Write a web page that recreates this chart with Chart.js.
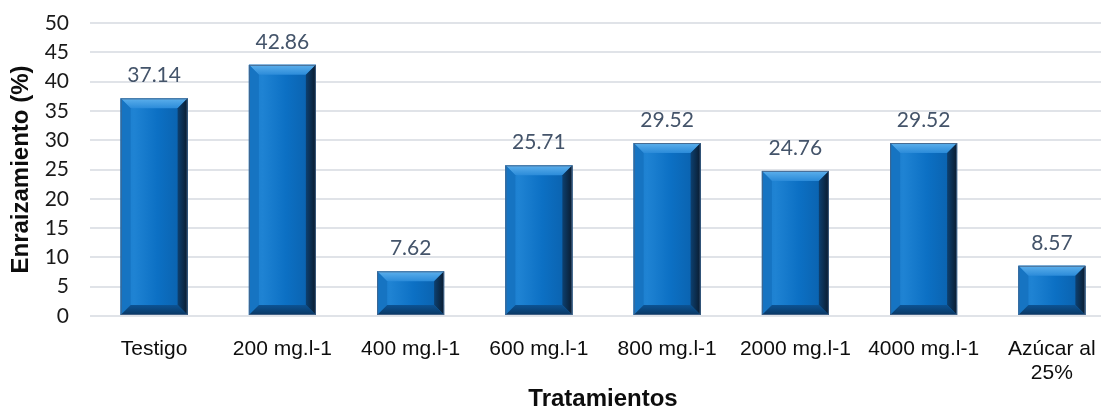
<!DOCTYPE html>
<html>
<head>
<meta charset="utf-8">
<script src="https://cdn.jsdelivr.net/npm/chart.js@4"></script>
<style>
html, body { margin: 0; padding: 0; background: #fff; overflow: hidden; }
#wrap { width: 1116px; height: 410px; }
</style>
</head>
<body>
<div id="wrap"><canvas id="rootChart" width="1116" height="410"></canvas></div>
<script>
const categories = ['Testigo', '200 mg.l-1', '400 mg.l-1', '600 mg.l-1', '800 mg.l-1', '2000 mg.l-1', '4000 mg.l-1', ['Azúcar al', '25%']];
const rooting = [37.14, 42.86, 7.62, 25.71, 29.52, 24.76, 29.52, 8.57];
const yMin = 0, yMax = 50, yStep = 5;

// draws the bevelled look of the bars plus the value labels
const bevelBars = {
    id: 'bevelBars',
    afterDatasetsDraw(chart) {
        const ctx = chart.ctx;
        const meta = chart.getDatasetMeta(0);
        ctx.save();
        meta.data.forEach((bar, i) => {
            const l = bar.x - bar.width / 2, r = bar.x + bar.width / 2;
            const t = bar.y, b = bar.base;
            const s = Math.min(10, (b - t) / 2);

            let g = ctx.createLinearGradient(l, 0, r, 0);
            g.addColorStop(0, '#1a7ccc');
            g.addColorStop(0.2, '#1f83d3');
            g.addColorStop(0.55, '#0c70c4');
            g.addColorStop(1, '#0a5ea8');
            ctx.fillStyle = g;
            ctx.fillRect(l, t, r - l, b - t);

            // top
            g = ctx.createLinearGradient(0, t, 0, t + s);
            g.addColorStop(0, '#5db0ec');
            g.addColorStop(1, '#2b8bd9');
            ctx.fillStyle = g;
            ctx.beginPath();
            ctx.moveTo(l, t); ctx.lineTo(r, t); ctx.lineTo(r - s, t + s); ctx.lineTo(l + s, t + s);
            ctx.closePath(); ctx.fill();

            // left
            ctx.fillStyle = '#1674c2';
            ctx.beginPath();
            ctx.moveTo(l, t); ctx.lineTo(l + s, t + s); ctx.lineTo(l + s, b - s); ctx.lineTo(l, b);
            ctx.closePath(); ctx.fill();

            // right
            g = ctx.createLinearGradient(r - s, 0, r, 0);
            g.addColorStop(0, '#0d4070');
            g.addColorStop(1, '#0a1b2e');
            ctx.fillStyle = g;
            ctx.beginPath();
            ctx.moveTo(r, t); ctx.lineTo(r, b); ctx.lineTo(r - s, b - s); ctx.lineTo(r - s, t + s);
            ctx.closePath(); ctx.fill();

            // bottom
            g = ctx.createLinearGradient(0, b - s, 0, b);
            g.addColorStop(0, '#0c5394');
            g.addColorStop(1, '#0a3762');
            ctx.fillStyle = g;
            ctx.beginPath();
            ctx.moveTo(l, b); ctx.lineTo(r, b); ctx.lineTo(r - s, b - s); ctx.lineTo(l + s, b - s);
            ctx.closePath(); ctx.fill();

            ctx.strokeStyle = 'rgba(70,100,135,0.9)';
            ctx.lineWidth = 1;
            ctx.strokeRect(l + 0.5, t + 0.5, r - l - 1, b - t - 1);

            ctx.fillStyle = '#44546a';
            ctx.font = '21px Lato';
            ctx.textAlign = 'center';
            ctx.textBaseline = 'middle';
            ctx.fillText(rooting[i].toFixed(2), bar.x, t - 23);
        });
        ctx.restore();
    }
};

new Chart(document.getElementById('rootChart').getContext('2d'), {
    type: 'bar',
    data: {
        labels: categories,
        datasets: [{
            label: 'Enraizamiento (%)',
            data: rooting,
            backgroundColor: '#0b6cc0',
            categoryPercentage: 1,
            barPercentage: 0.522
        }]
    },
    options: {
        responsive: false,
        animation: false,
        layout: { padding: { top: 23, left: 0, right: 0, bottom: 0 } },
        plugins: {
            legend: { display: false },
            tooltip: { enabled: false }
        },
        scales: {
            x: {
                grid: { display: false },
                border: { display: false },
                ticks: {
                    color: '#0d0d0d',
                    font: { family: 'Liberation Sans', size: 21, lineHeight: 1.15 },
                    padding: 13,
                    maxRotation: 0,
                    autoSkip: false
                },
                title: {
                    display: true,
                    text: 'Tratamientos',
                    color: '#0d0d0d',
                    font: { family: 'Liberation Sans', size: 24, weight: 'bold', lineHeight: 0.9 },
                    padding: 0
                },
                afterFit(scale) { scale.height = 94; }
            },
            y: {
                min: yMin,
                max: yMax,
                grid: { color: '#e0e3e8', lineWidth: 2, drawTicks: false },
                border: { display: false },
                ticks: {
                    stepSize: yStep,
                    color: '#1a1a1a',
                    font: { family: 'Lato', size: 21 },
                    padding: 21
                },
                title: {
                    display: true,
                    text: 'Enraizamiento (%)',
                    color: '#0d0d0d',
                    font: { family: 'Liberation Sans', size: 24, weight: 'bold', lineHeight: 0.9 },
                    padding: { top: 11, bottom: 0 }
                },
                afterFit(scale) {
                    scale.width = 90;
                    scale.paddingTop = 0;
                    scale.paddingBottom = 0;
                }
            }
        }
    },
    plugins: [bevelBars]
});
</script>
</body>
</html>
